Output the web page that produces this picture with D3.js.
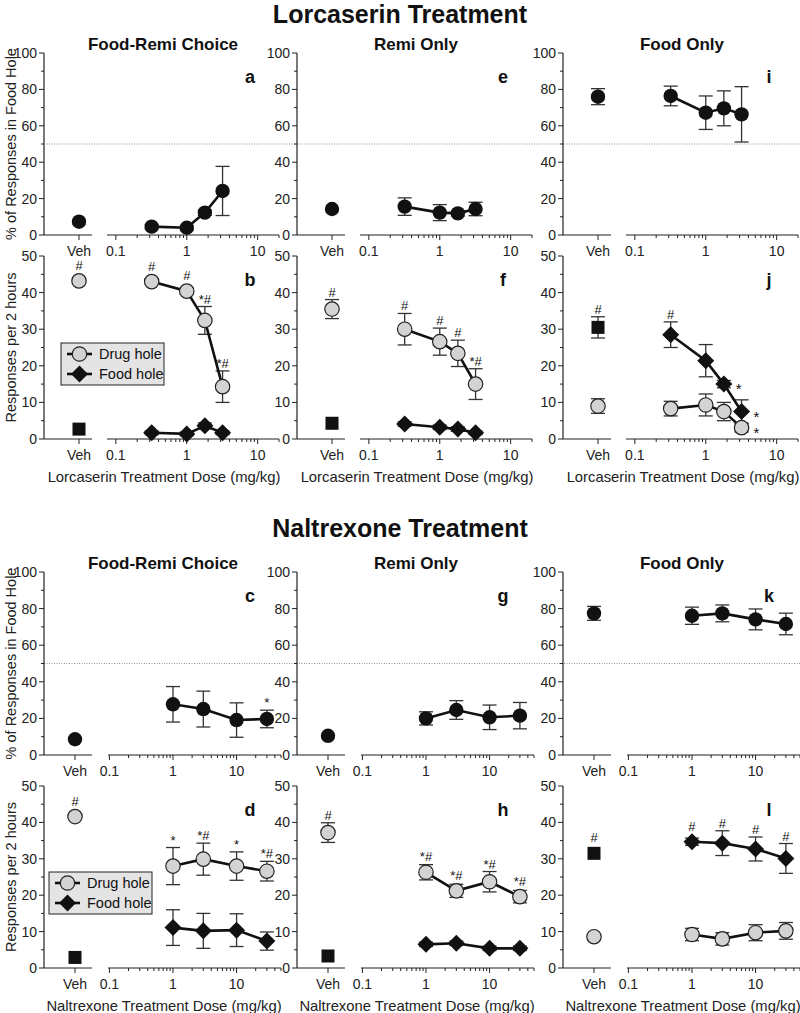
<!DOCTYPE html>
<html><head><meta charset="utf-8">
<script src="https://cdn.jsdelivr.net/npm/d3@7"></script>
<style>body{margin:0;background:#fff}svg{display:block}text{font-family:"Liberation Sans",Arial,sans-serif}</style>
</head><body>
<svg id="c" width="800" height="1013"></svg>
<script>
// ---------- data ----------
const lorcDoses = [0.32, 1, 1.8, 3.2];
const naltDoses = [1, 3, 10, 30];
const lorcTickLabels = ["0.1", "1", "10"];
const naltTickLabels = ["0.1", "1", "10"];
const colTitles = ["Food-Remi Choice", "Remi Only", "Food Only"];

// % responses in food hole (mean, sem) -- lorcaserin
const a_veh = [7.3, 0];     const a_mean = [4.6, 4.0, 12.3, 24.2]; const a_sem = [1.2, 1.2, 1.5, 13.5];
const e_veh = [14.3, 0];    const e_mean = [15.6, 12.3, 11.9, 14.3]; const e_sem = [4.8, 4.4, 1.5, 3.7];
const i_veh = [76.0, 4.4];  const i_mean = [76.4, 67.2, 69.6, 66.3]; const i_sem = [5.4, 9.2, 9.6, 15.2];
// responses per 2 h -- lorcaserin
const b_drugVeh = [43.2, 0.8]; const b_foodVeh = [2.7, 0];
const b_drug = [43.0, 40.4, 32.4, 14.3]; const b_drugSem = [0.8, 0.8, 3.8, 4.3];
const b_food = [1.7, 1.4, 3.6, 1.7];     const b_foodSem = [0.5, 0.5, 0.8, 0.5];
const b_drugAnn = ["#", "#", "*#", "*#"]; const b_foodAnn = ["", "", "", ""];
const f_drugVeh = [35.5, 2.6]; const f_foodVeh = [4.3, 0];
const f_drug = [30.0, 26.6, 23.4, 15.0]; const f_drugSem = [4.3, 3.7, 3.6, 4.2];
const f_food = [4.1, 3.2, 2.7, 1.7];     const f_foodSem = [0.6, 0.6, 0.6, 0.5];
const f_drugAnn = ["#", "#", "#", "*#"]; const f_foodAnn = ["", "", "", ""];
const j_drugVeh = [9.0, 2.0]; const j_foodVeh = [30.5, 2.9];
const j_drug = [8.3, 9.3, 7.5, 3.1];     const j_drugSem = [2.0, 3.0, 2.5, 1.2];
const j_food = [28.5, 21.4, 15.0, 7.5];  const j_foodSem = [3.5, 4.4, 1.0, 3.2];
const j_drugAnn = ["", "", "", "*"]; const j_foodAnn = ["#", "", "*", "*"];

// naltrexone
const c_veh = [8.6, 0];     const c_mean = [27.7, 25.1, 19.1, 19.7]; const c_sem = [9.7, 9.8, 9.4, 4.8];
const c_ann = ["", "", "", "*"];
const g_veh = [10.5, 0];    const g_mean = [20.0, 24.6, 20.6, 21.5]; const g_sem = [3.6, 5.1, 6.7, 7.2];
const k_veh = [77.4, 3.8];  const k_mean = [76.1, 77.4, 74.1, 71.6]; const k_sem = [4.7, 4.6, 5.7, 5.9];
const d_drugVeh = [41.6, 0.8]; const d_foodVeh = [2.9, 0];
const d_drug = [28.0, 29.9, 28.0, 26.6]; const d_drugSem = [5.1, 4.4, 3.9, 2.7];
const d_food = [11.1, 10.2, 10.4, 7.4];  const d_foodSem = [4.9, 4.8, 4.5, 2.5];
const d_drugAnn = ["*", "*#", "*", "*#"]; const d_foodAnn = ["", "", "", ""];
const h_drugVeh = [37.2, 2.7]; const h_foodVeh = [3.3, 0];
const h_drug = [26.3, 21.2, 23.7, 19.6]; const h_drugSem = [2.1, 1.8, 2.8, 1.7];
const h_food = [6.5, 6.8, 5.4, 5.4];     const h_foodSem = [0.6, 0.6, 0.6, 0.6];
const h_drugAnn = ["*#", "*#", "*#", "*#"]; const h_foodAnn = ["", "", "", ""];
const l_drugVeh = [8.6, 0.8]; const l_foodVeh = [31.5, 0];
const l_drug = [9.2, 8.0, 9.7, 10.2];    const l_drugSem = [1.7, 1.7, 2.2, 2.3];
const l_food = [34.7, 34.3, 32.7, 30.1]; const l_foodSem = [1.0, 3.4, 3.3, 4.1];
const l_drugAnn = ["", "", "", ""]; const l_foodAnn = ["#", "#", "#", "#"];

// ---------- drawing ----------
const svg = d3.select("#c");
const axisX = [44, 297, 563];
const GRAY = "#d3d3d3";

const treat = {
  lorc: {doses: lorcDoses, dom: [0.075, 20], r: [63, 235], veh: 35, top: [53, 235], bot: [256, 439],
         title: "Lorcaserin Treatment", titleY: 23, subY: 50, xTitle: "Lorcaserin Treatment Dose (mg/kg)", labels: lorcTickLabels},
  nalt: {doses: naltDoses, dom: [0.095, 50], r: [64, 237], veh: 31, top: [572, 755], bot: [786, 968],
         title: "Naltrexone Treatment", titleY: 537, subY: 569, xTitle: "Naltrexone Treatment Dose (mg/kg)", labels: naltTickLabels}
};

function xScale(t, ax) { return d3.scaleLog().domain(t.dom).range([ax + t.r[0], ax + t.r[1]]); }

function drawAxes(g, t, ax, rowY, ymax, majorStep, letter, xt) {
  const y = d3.scaleLinear().domain([0, ymax]).range([rowY[1], rowY[0]]);
  const x = xScale(t, ax);
  g.append("line").attr("x1", ax).attr("x2", ax).attr("y1", y(0)).attr("y2", y(ymax)).attr("stroke", "#222").attr("stroke-width", 1.2);
  for (let v = 0; v <= ymax + 1e-9; v += majorStep / 2) {
    const major = Math.abs(v / majorStep - Math.round(v / majorStep)) < 1e-6;
    g.append("line").attr("x1", ax).attr("x2", ax - (major ? 5 : 3)).attr("y1", y(v)).attr("y2", y(v)).attr("stroke", "#222").attr("stroke-width", 1);
    if (major) g.append("text").attr("x", ax - 7).attr("y", y(v)).attr("dy", "0.36em").attr("text-anchor", "end")
      .attr("font-size", 14).attr("fill", "#222").text(v);
  }
  const y0 = y(0);
  g.append("line").attr("x1", ax).attr("x2", ax + 48).attr("y1", y0).attr("y2", y0).attr("stroke", "#222").attr("stroke-width", 1.2);
  g.append("line").attr("x1", ax + t.veh).attr("x2", ax + t.veh).attr("y1", y0).attr("y2", y0 + 5).attr("stroke", "#222");
  g.append("text").attr("x", ax + t.veh).attr("y", y0 + 21).attr("text-anchor", "middle").attr("font-size", 14).attr("fill", "#222").text("Veh");
  g.append("line").attr("x1", x.range()[0]).attr("x2", x.range()[1]).attr("y1", y0).attr("y2", y0).attr("stroke", "#222").attr("stroke-width", 1.2);
  [0.1, 1, 10].forEach((dec, di) => {
    for (let m = 1; m <= 9; m++) {
      const v = dec * m;
      if (v < t.dom[0] || v > t.dom[1] * 1.0001) continue;
      const xx = x(v);
      g.append("line").attr("x1", xx).attr("x2", xx).attr("y1", y0).attr("y2", y0 + (m === 1 ? 5 : 3)).attr("stroke", "#222").attr("stroke-width", 1);
    }
    g.append("text").attr("x", x(dec)).attr("y", y0 + 21).attr("text-anchor", "middle").attr("font-size", 14).attr("fill", "#222").text(t.labels[di]);
  });
  g.append("text").attr("x", ax + 206).attr("y", rowY[0] + 30).attr("text-anchor", "middle")
    .attr("font-size", 18).attr("font-weight", "bold").attr("fill", "#111").text(letter);
  if (xt) g.append("text").attr("x", ax + 120).attr("y", y0 + 43).attr("text-anchor", "middle").attr("font-size", 14.8).attr("fill", "#222").text(t.xTitle);
  return {x, y};
}

function errBar(g, x, yv, m, s) {
  if (s <= 0) return;
  const y1 = yv(m + s), y2 = yv(m - s);
  g.append("line").attr("x1", x).attr("x2", x).attr("y1", y1).attr("y2", y2).attr("stroke", "#333").attr("stroke-width", 1.3);
  [y1, y2].forEach(yy => g.append("line").attr("x1", x - 7).attr("x2", x + 7).attr("y1", yy).attr("y2", yy).attr("stroke", "#333").attr("stroke-width", 1.3));
}

function marker(g, type, x, y) {
  if (type === "circle") g.append("circle").attr("cx", x).attr("cy", y).attr("r", 7.2).attr("fill", "#111");
  else if (type === "gray") g.append("circle").attr("cx", x).attr("cy", y).attr("r", 7.2).attr("fill", GRAY).attr("stroke", "#222").attr("stroke-width", 1.2);
  else if (type === "diamond") g.append("path").attr("d", `M${x},${y-8.5}L${x+8.5},${y}L${x},${y+8.5}L${x-8.5},${y}Z`).attr("fill", "#111");
  else if (type === "square") g.append("rect").attr("x", x - 6.5).attr("y", y - 6.5).attr("width", 13).attr("height", 13).attr("fill", "#111");
}

function ann(g, x, yTop, txt, side, yc) {
  if (!txt) return;
  if (side) g.append("text").attr("x", x + 12).attr("y", yc + 10).attr("font-size", 15).attr("fill", "#111").text(txt);
  else g.append("text").attr("x", x).attr("y", yTop - 3).attr("text-anchor", "middle").attr("font-size", 13).attr("fill", "#111").text(txt);
}

function series(g, sc, t, ax, mean, sem, type, annArr, vehVal, vehType, vehAnn, side) {
  const pts = mean.map((m, i) => [sc.x(t.doses[i]), sc.y(m)]);
  mean.forEach((m, i) => errBar(g, sc.x(t.doses[i]), sc.y, m, sem[i]));
  const vx = ax + t.veh;
  errBar(g, vx, sc.y, vehVal[0], vehVal[1]);
  g.append("path").attr("d", d3.line()(pts)).attr("fill", "none").attr("stroke", "#111").attr("stroke-width", 2.6);
  return () => {
    pts.forEach(p => marker(g, type, p[0], p[1]));
    marker(g, vehType, vx, sc.y(vehVal[0]));
    mean.forEach((m, i) => {
      const top = Math.min(sc.y(m) - 8, sc.y(m + sem[i]));
      ann(g, sc.x(t.doses[i]), top, annArr ? annArr[i] : "", side && side[i], sc.y(m));
    });
    if (vehAnn) ann(g, vx, Math.min(sc.y(vehVal[0]) - 8, sc.y(vehVal[0] + vehVal[1])), vehAnn, false);
  };
}

function pctPanel(tk, col, letter, veh, mean, sem, annArr) {
  const t = treat[tk], ax = axisX[col];
  const g = svg.append("g");
  const sc = drawAxes(g, t, ax, t.top, 100, 20, letter, false);
  series(g, sc, t, ax, mean, sem, "circle", annArr, veh, "circle", "")();
}

function respPanel(tk, col, letter, drugVeh, foodVeh, drug, drugSem, food, foodSem, drugAnn, foodAnn, opts) {
  const t = treat[tk], ax = axisX[col];
  const g = svg.append("g");
  const sc = drawAxes(g, t, ax, t.bot, 50, 10, letter, true);
  const side = opts && opts.side;
  const m1 = series(g, sc, t, ax, food, foodSem, "diamond", foodAnn, foodVeh, "square", opts && opts.foodVehAnn, side ? side.food : null);
  const m2 = series(g, sc, t, ax, drug, drugSem, "gray", drugAnn, drugVeh, "gray", opts && opts.drugVehAnn, side ? side.drug : null);
  m1(); m2();
}

["lorc", "nalt"].forEach(tk => {
  const t = treat[tk];
  const y = d3.scaleLinear().domain([0, 100]).range([t.top[1], t.top[0]]);
  svg.append("line").attr("x1", axisX[0]).attr("x2", 800).attr("y1", y(50)).attr("y2", y(50))
    .attr("stroke", "#777").attr("stroke-width", 0.8).attr("stroke-dasharray", "1,1.5");
});

pctPanel("lorc", 0, "a", a_veh, a_mean, a_sem, null);
pctPanel("lorc", 1, "e", e_veh, e_mean, e_sem, null);
pctPanel("lorc", 2, "i", i_veh, i_mean, i_sem, null);
respPanel("lorc", 0, "b", b_drugVeh, b_foodVeh, b_drug, b_drugSem, b_food, b_foodSem, b_drugAnn, b_foodAnn, {drugVehAnn: "#"});
respPanel("lorc", 1, "f", f_drugVeh, f_foodVeh, f_drug, f_drugSem, f_food, f_foodSem, f_drugAnn, f_foodAnn, {drugVehAnn: "#"});
respPanel("lorc", 2, "j", j_drugVeh, j_foodVeh, j_drug, j_drugSem, j_food, j_foodSem, j_drugAnn, j_foodAnn,
  {foodVehAnn: "#", side: {food: [false, false, true, true], drug: [false, false, false, true]}});

pctPanel("nalt", 0, "c", c_veh, c_mean, c_sem, c_ann);
pctPanel("nalt", 1, "g", g_veh, g_mean, g_sem, null);
pctPanel("nalt", 2, "k", k_veh, k_mean, k_sem, null);
respPanel("nalt", 0, "d", d_drugVeh, d_foodVeh, d_drug, d_drugSem, d_food, d_foodSem, d_drugAnn, d_foodAnn, {drugVehAnn: "#"});
respPanel("nalt", 1, "h", h_drugVeh, h_foodVeh, h_drug, h_drugSem, h_food, h_foodSem, h_drugAnn, h_foodAnn, {drugVehAnn: "#"});
respPanel("nalt", 2, "l", l_drugVeh, l_foodVeh, l_drug, l_drugSem, l_food, l_foodSem, l_drugAnn, l_foodAnn, {foodVehAnn: "#"});

["lorc", "nalt"].forEach(tk => {
  const t = treat[tk];
  svg.append("text").attr("x", 400).attr("y", t.titleY).attr("text-anchor", "middle").attr("font-size", 25)
    .attr("font-weight", "bold").attr("fill", "#111").text(t.title);
  colTitles.forEach((ct, i) => svg.append("text").attr("x", axisX[i] + 119).attr("y", t.subY).attr("text-anchor", "middle")
    .attr("font-size", 17).attr("font-weight", "bold").attr("fill", "#111").text(ct));
  svg.append("text").attr("transform", `translate(16,${(t.top[0] + t.top[1]) / 2}) rotate(-90)`).attr("text-anchor", "middle")
    .attr("font-size", 14.5).attr("fill", "#222").text("% of Responses in Food Hole");
  svg.append("text").attr("transform", `translate(16,${(t.bot[0] + t.bot[1]) / 2}) rotate(-90)`).attr("text-anchor", "middle")
    .attr("font-size", 14.5).attr("fill", "#222").text("Responses per 2 hours");
});

function legend(x0, y0) {
  const g = svg.append("g");
  g.append("rect").attr("x", x0).attr("y", y0).attr("width", 103).attr("height", 42).attr("fill", "#e4e4e4").attr("stroke", "#222").attr("stroke-width", 1);
  const rows = [["gray", "Drug hole", 11], ["diamond", "Food hole", 31]];
  rows.forEach(r => {
    g.append("line").attr("x1", x0 + 6).attr("x2", x0 + 31).attr("y1", y0 + r[2]).attr("y2", y0 + r[2]).attr("stroke", "#111").attr("stroke-width", 2.6);
    marker(g, r[0], x0 + 18.5, y0 + r[2]);
    g.append("text").attr("x", x0 + 38).attr("y", y0 + r[2]).attr("dy", "0.36em").attr("font-size", 14.5).attr("fill", "#111").text(r[1]);
  });
}
legend(61, 343);
legend(49, 872);
</script>
</body></html>
